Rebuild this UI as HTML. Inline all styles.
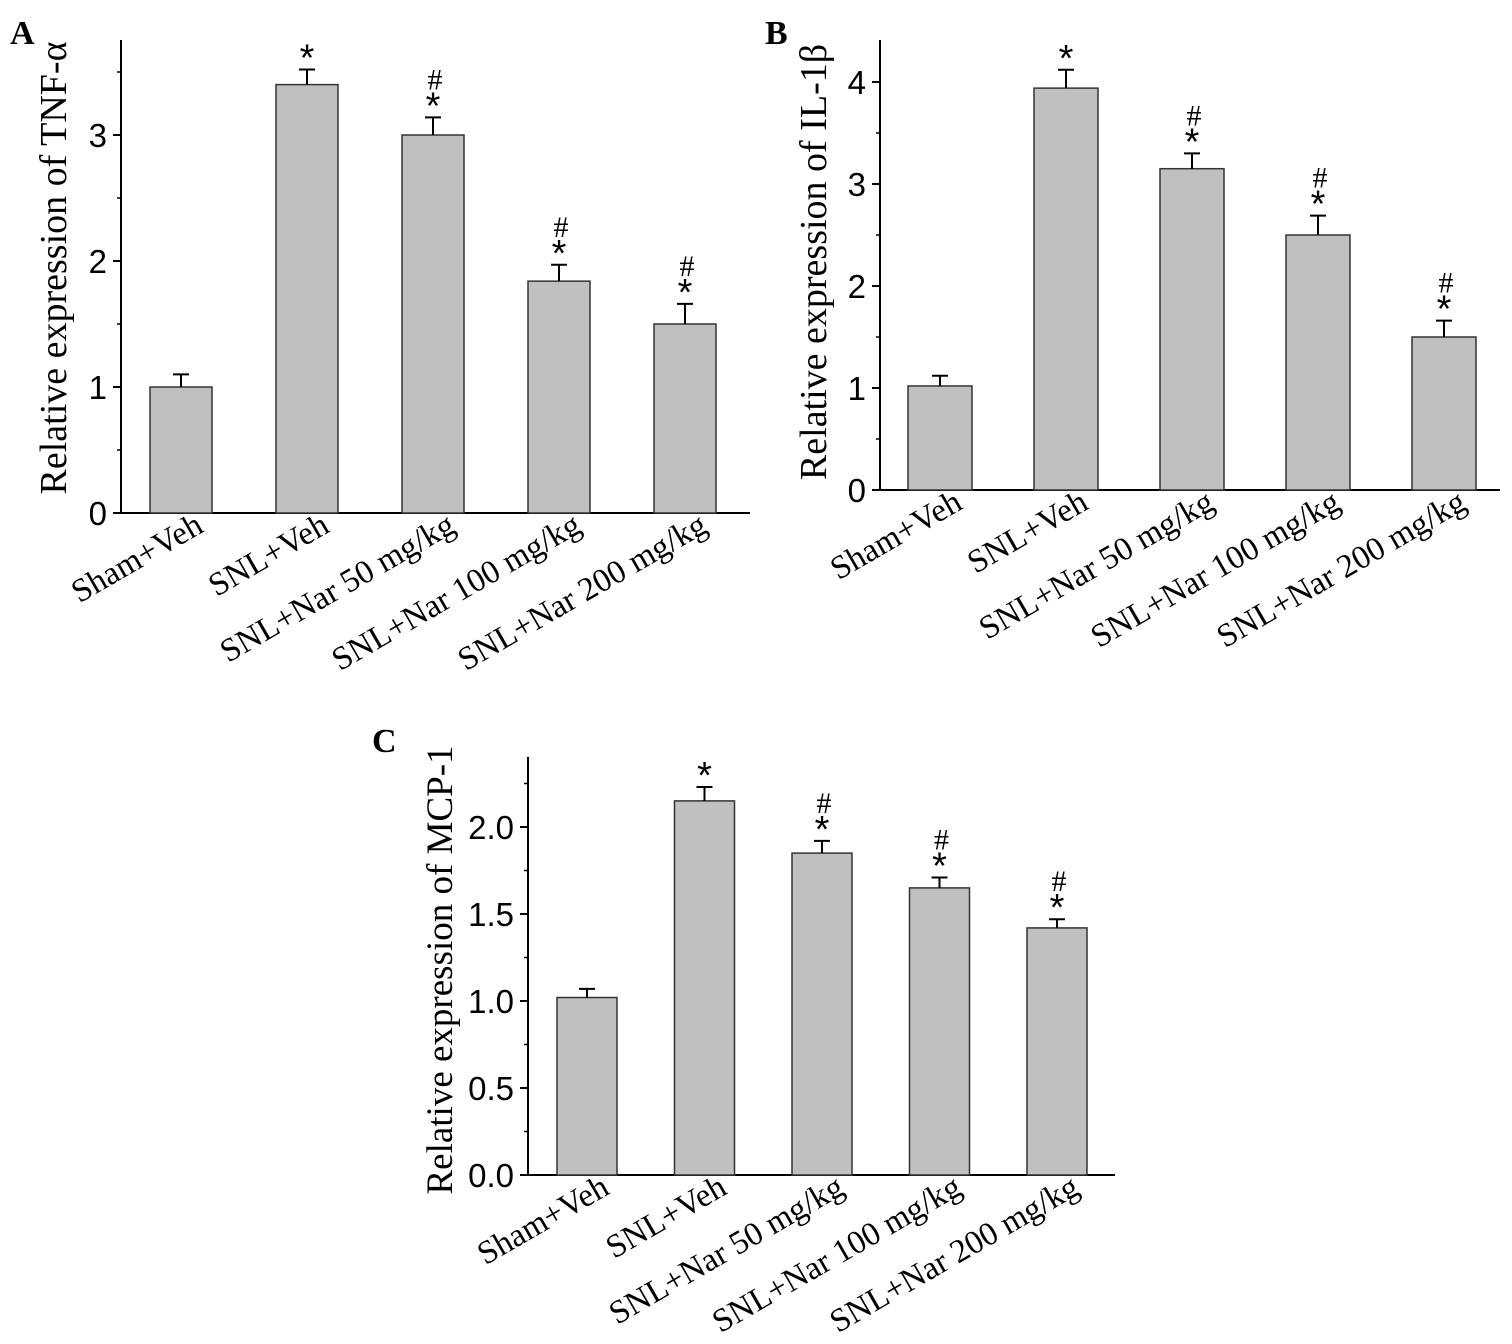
<!DOCTYPE html>
<html><head><meta charset="utf-8"><style>body{margin:0;background:#fff}svg{display:block}</style></head>
<body>
<svg id="s" width="1512" height="1344" xmlns="http://www.w3.org/2000/svg">
<text x="10" y="44" font-family="Liberation Serif" font-weight="bold" font-size="34">A</text>
<text x="765" y="44" font-family="Liberation Serif" font-weight="bold" font-size="34">B</text>
<text x="372" y="752" font-family="Liberation Serif" font-weight="bold" font-size="34">C</text>
</svg>
<script>
const categories=["Sham+Veh","SNL+Veh","SNL+Nar 50 mg/kg","SNL+Nar 100 mg/kg","SNL+Nar 200 mg/kg"];
const tnfValues=[1.0,3.4,3.0,1.84,1.5];
const tnfErrors=[0.1,0.12,0.14,0.13,0.16];
const il1bValues=[1.02,3.94,3.15,2.5,1.5];
const il1bErrors=[0.1,0.18,0.15,0.19,0.16];
const mcpValues=[1.02,2.15,1.85,1.65,1.42];
const mcpErrors=[0.05,0.08,0.07,0.06,0.05];
const tnfSig=["","*","*#","*#","*#"];
const il1bSig=["","*","*#","*#","*#"];
const mcpSig=["","*","*#","*#","*#"];
const tnfTicks=[0,1,2,3];
const il1bTicks=[0,1,2,3,4];
const mcpTicks=[0,0.5,1.0,1.5,2.0];
const mcpTickLabels=["0.0","0.5","1.0","1.5","2.0"];
const NS="http://www.w3.org/2000/svg";
const svg=document.getElementById('s');
function mk(tag,a,parent){const e=document.createElementNS(NS,tag);for(const k in a)e.setAttribute(k,a[k]);(parent||svg).appendChild(e);return e;}
function panel(o){
  const g=mk('g',{});
  
  
  const y=v=>o.base-v*o.ppu;
  const x=i=>o.x0+o.first+i*o.step;
  const ya=mk('line',{x1:o.x0,y1:o.top,x2:o.x0,y2:o.base,stroke:'#000','stroke-width':2},g);
  
  const xa=mk('line',{x1:o.x0-8,y1:o.base,x2:o.right,y2:o.base,stroke:'#000','stroke-width':2},g);
  
  o.ticks.forEach((t,i)=>{
    mk('line',{x1:o.x0-8,x2:o.x0,y1:y(t),y2:y(t),stroke:'#000','stroke-width':2},g);
    const m=t+o.minor; if(y(m)>o.top) mk('line',{x1:o.x0-4,x2:o.x0,y1:y(m),y2:y(m),stroke:'#000','stroke-width':1.5},g);
    const tl=mk('text',{x:o.x0-14,y:y(t)+12,'text-anchor':'end','font-family':'Liberation Sans','font-size':33},g);
    tl.textContent=o.labels?o.labels[i]:t;
    
  });
  const yt=mk('text',{transform:`translate(${o.titleX},${o.titleY}) rotate(-90)`,'text-anchor':'middle','font-family':'Liberation Serif','font-size':o.titleSize},g);
  yt.textContent=o.title;
  o.vals.forEach((v,i)=>{
    const cx=x(i);
    const b=mk('rect',{x:cx-o.bw/2,y:y(v),width:o.bw,height:o.base-y(v),fill:'#c0c0c0',stroke:'#333','stroke-width':1.5},g);
    
    const et=y(v+o.errs[i]);
    const e=mk('path',{d:`M${cx},${y(v)}V${et}M${cx-8},${et}H${cx+8}`,stroke:'#000','stroke-width':2,fill:'none'},g);
    
    const s=o.sig[i];
    if(s.includes('*')){const st=mk('text',{x:cx,y:et+1,'text-anchor':'middle','font-family':'Liberation Sans','font-size':38},g);st.textContent='*';}
    if(s.includes('#')){const h=mk('text',{x:cx+2,y:et-28,'text-anchor':'middle','font-family':'Liberation Serif','font-size':30},g);h.textContent='#';}
    const c=mk('text',{transform:`translate(${cx+24},${o.base+18}) rotate(-30)`,'text-anchor':'end','font-family':'Liberation Serif','font-size':33},g);
    c.textContent=categories[i];
  });
}
panel({name:'panel-a-tnf',x0:121,top:40,base:513,ppu:126,right:750,first:60,step:126,bw:62,vals:tnfValues,errs:tnfErrors,sig:tnfSig,ticks:tnfTicks,minor:0.5,title:'Relative expression of TNF-α',titleX:66,titleY:268,titleSize:38});
panel({name:'panel-b-il1b',x0:880,top:40,base:490,ppu:102,right:1500,first:60,step:126,bw:64,vals:il1bValues,errs:il1bErrors,sig:il1bSig,ticks:il1bTicks,minor:0.5,title:'Relative expression of IL-1β',titleX:826,titleY:262,titleSize:38});
panel({name:'panel-c-mcp1',x0:528,top:757,base:1175,ppu:174,right:1115,first:59,step:117.5,bw:60,vals:mcpValues,errs:mcpErrors,sig:mcpSig,ticks:mcpTicks,labels:mcpTickLabels,minor:0.25,title:'Relative expression of MCP-1',titleX:452,titleY:970,titleSize:37});
</script>
</body></html>
